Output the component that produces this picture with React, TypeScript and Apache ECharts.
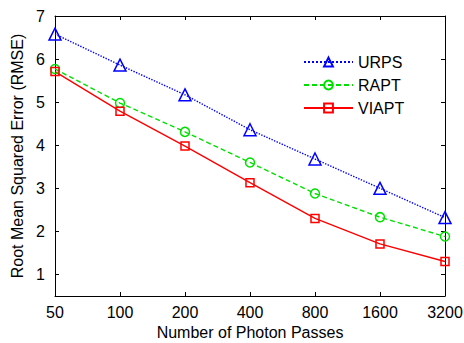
import React, { useEffect, useRef } from "react";
import * as echarts from "echarts";

const categories = ["50", "100", "200", "400", "800", "1600", "3200"];
const urps = [6.58, 5.86, 5.17, 4.36, 3.68, 3.0, 2.32];
const rapt = [5.77, 4.98, 4.31, 3.6, 2.88, 2.33, 1.88];
const viapt = [5.71, 4.79, 3.98, 3.13, 2.3, 1.71, 1.3];
const yTicks = [1, 2, 3, 4, 5, 6, 7];

const FONT = "'Liberation Sans', Arial, Helvetica, sans-serif";

export default function App() {
  const ref = useRef<HTMLDivElement>(null);
  useEffect(() => {
    if (!ref.current) return;
    document.body.style.margin = "0";
    const chart = echarts.init(ref.current, undefined, { renderer: "svg" });
    const axisLine = { show: true, lineStyle: { color: "#000", width: 1 } };
    const tick = { show: true, inside: true, length: 4, lineStyle: { color: "#000", width: 1 } };
    const mkSeries = (name: string, data: number[], color: string, symbol: string, size: number, lineType: any) => ({
      name,
      type: "line",
      data,
      xAxisIndex: 0,
      yAxisIndex: 0,
      symbol,
      symbolSize: size,
      showAllSymbol: true,
      lineStyle: { color, width: 1.4, type: lineType },
      itemStyle: { color: "rgba(0,0,0,0)", borderColor: color, borderWidth: 1.5 },
      emphasis: { disabled: true },
    });
    chart.setOption({
      animation: false,
      textStyle: { fontFamily: FONT },
      grid: { left: 55, right: 19, top: 16, bottom: 47, containLabel: false, outerBoundsMode: "none" },
      legend: {
        orient: "vertical",
        left: 298,
        top: 49,
        itemWidth: 49,
        itemHeight: 11,
        itemGap: 7,
        textStyle: { fontSize: 16, color: "#000", fontFamily: FONT },
        data: ["URPS", "RAPT", "VIAPT"],
      },
      xAxis: [
        {
          type: "category",
          data: categories,
          boundaryGap: false,
          position: "bottom",
          axisLine,
          axisTick: { ...tick, alignWithLabel: true },
          axisLabel: { fontSize: 16, color: "#000", margin: 8, fontFamily: FONT },
          splitLine: { show: false },
          name: "Number of Photon Passes",
          nameLocation: "middle",
          nameGap: 26,
          nameTextStyle: { fontSize: 16, color: "#000", fontFamily: FONT },
        },
        {
          type: "category",
          data: categories,
          boundaryGap: false,
          position: "top",
          axisLine,
          axisTick: tick,
          axisLabel: { show: false },
          splitLine: { show: false },
        },
      ],
      yAxis: [
        {
          type: "value",
          min: 0.5,
          max: 7,
          position: "left",
          axisLine,
          axisTick: { ...tick, customValues: yTicks },
          axisLabel: { fontSize: 16, color: "#000", margin: 10, customValues: yTicks, fontFamily: FONT },
          splitLine: { show: false },
          name: "Root Mean Squared Error (RMSE)",
          nameLocation: "middle",
          nameGap: 27,
          nameRotate: 90,
          nameTextStyle: { fontSize: 16, color: "#000", fontFamily: FONT },
        },
        {
          type: "value",
          min: 0.5,
          max: 7,
          position: "right",
          axisLine,
          axisTick: { ...tick, customValues: yTicks },
          axisLabel: { show: false, customValues: yTicks },
          splitLine: { show: false },
        },
      ],
      series: [
        mkSeries("URPS", urps, "#0000ff", "triangle", 12, "dotted"),
        mkSeries("RAPT", rapt, "#00e000", "circle", 9, [5, 3]),
        mkSeries("VIAPT", viapt, "#ff0000", "rect", 8, "solid"),
      ],
    });
    return () => chart.dispose();
  }, []);
  return <div ref={ref} style={{ width: 464, height: 343, position: "absolute", left: 0, top: 0 }} />;
}
